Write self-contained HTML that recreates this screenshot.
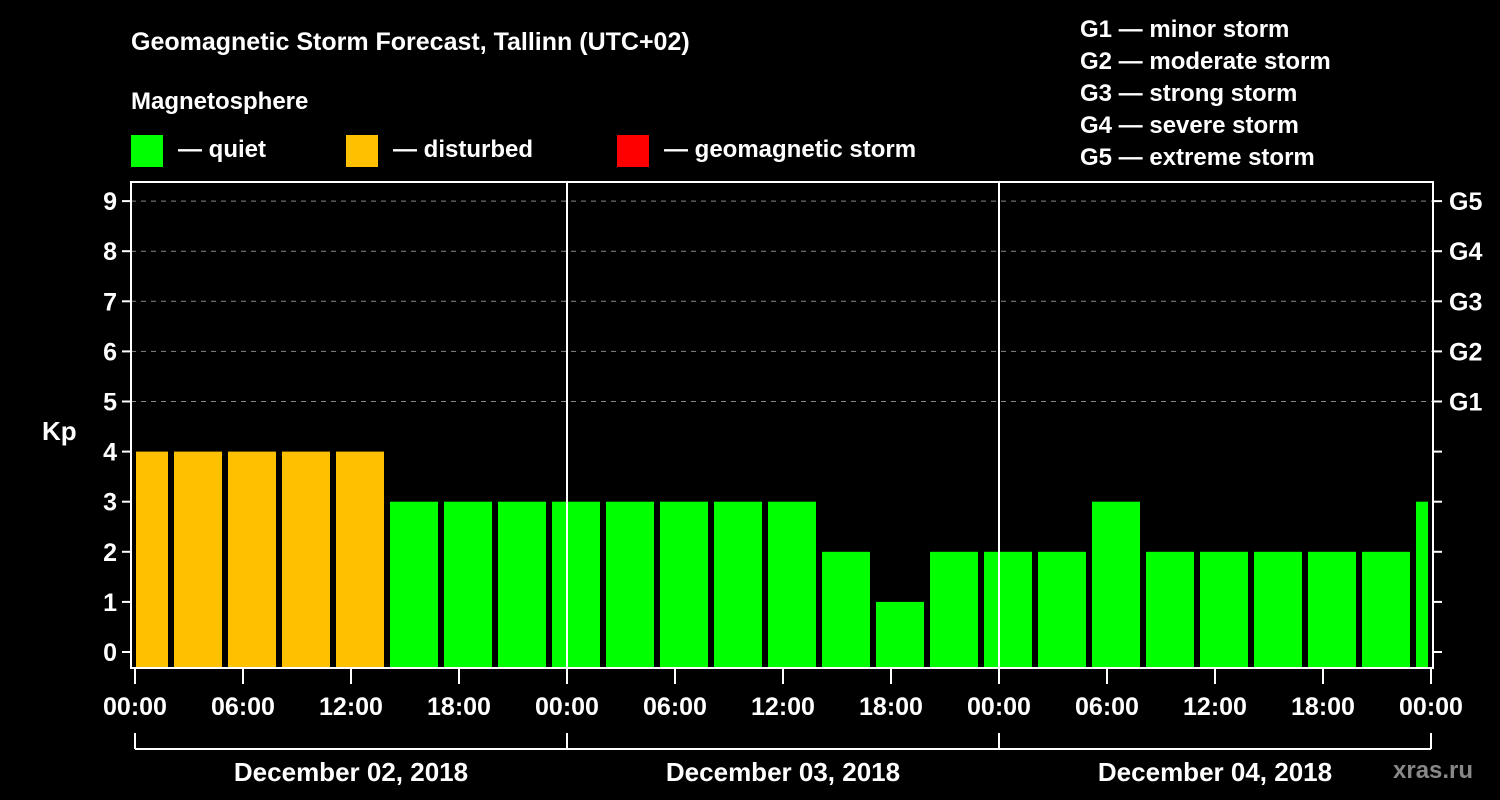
<!DOCTYPE html>
<html><head><meta charset="utf-8"><style>
body{margin:0;background:#000;}
svg{display:block;font-family:"Liberation Sans",Arial,sans-serif;font-weight:bold;}
</style></head><body>
<svg id="c" width="1500" height="800">
<rect width="1500" height="800" fill="#000"/>
<text x="131" y="50" fill="#fff" font-size="25">Geomagnetic Storm Forecast, Tallinn (UTC+02)</text>
<text x="131" y="109" fill="#fff" font-size="24">Magnetosphere</text>
<g><rect x="131" y="135" width="32" height="32" fill="#00ff00"/><text x="178" y="157" fill="#fff" font-size="24">— quiet</text></g>
<g><rect x="346" y="135" width="32" height="32" fill="#ffc000"/><text x="393" y="157" fill="#fff" font-size="24">— disturbed</text></g>
<g><rect x="617" y="135" width="32" height="32" fill="#ff0000"/><text x="664" y="157" fill="#fff" font-size="24">— geomagnetic storm</text></g>
<g fill="#fff" font-size="24">
<text x="1080" y="37">G1 — minor storm</text><text x="1080" y="69">G2 — moderate storm</text><text x="1080" y="101">G3 — strong storm</text><text x="1080" y="133">G4 — severe storm</text><text x="1080" y="165">G5 — extreme storm</text></g>
<text x="42" y="440" fill="#fff" font-size="26">Kp</text>
<text x="1393" y="778" fill="#888" font-size="24">xras.ru</text>
<g id="plot"></g>
</svg>
<script>
const values=[4,4,4,4,4,3,3,3,3,3,3,3,3,2,1,2,2,2,3,2,2,2,2,2,3];
const xTickLabels=["00:00","06:00","12:00","18:00","00:00","06:00","12:00","18:00","00:00","06:00","12:00","18:00","00:00"];
const yTickLabels=["0","1","2","3","4","5","6","7","8","9"];
const gLabels=["G1","G2","G3","G4","G5"];
const dayLabels=["December 02, 2018","December 03, 2018","December 04, 2018"];
const NS="http://www.w3.org/2000/svg";
const g=document.getElementById('plot');
const L=131,R=1433,T=182,B=668;
const xs=h=>135+h*18;
const ys=v=>652-v*50.1;
function mk(t,a,p){const e=document.createElementNS(NS,t);for(const k in a)e.setAttribute(k,a[k]);(p||g).appendChild(e);return e;}
// grid
for(let v=5;v<=9;v++){const l=mk('line',{x1:L,x2:R,y1:ys(v),y2:ys(v),stroke:'#888','stroke-dasharray':'5,5','stroke-width':1});

}
// bars
values.forEach((v,i)=>{
 const s=-1+3*i;let x1=xs(s)+3,x2=xs(s+3)-3;
 x1=Math.max(x1,136);x2=Math.min(x2,1428);
 const col=v>=5?'#ff0000':(v>=4?'#ffc000':'#00ff00');
 const r=mk('rect',{x:x1,y:ys(v),width:x2-x1,height:B-1-ys(v),fill:col});
 
 
});
// day dividers
[24,48].forEach(h=>{const l=mk('line',{x1:xs(h),x2:xs(h),y1:T,y2:B,stroke:'#fff','stroke-width':2});

});
// frame
const f=mk('rect',{x:L,y:T,width:R-L,height:B-T,fill:'none',stroke:'#fff','stroke-width':2});


// y ticks
yTickLabels.forEach((t,v)=>{
 mk('line',{x1:L-9,x2:L,y1:ys(v),y2:ys(v),stroke:'#fff','stroke-width':2});
 mk('line',{x1:R,x2:R+9,y1:ys(v),y2:ys(v),stroke:'#fff','stroke-width':2});
 const tx=mk('text',{x:L-14,y:ys(v)+9,fill:'#fff','font-size':25,'text-anchor':'end'});tx.textContent=t;
 
 
});
gLabels.forEach((t,i)=>{const tx=mk('text',{x:1449,y:ys(5+i)+9,fill:'#fff','font-size':25});tx.textContent=t;
 
 });
// x ticks
xTickLabels.forEach((t,i)=>{const x=xs(i*6);
 mk('line',{x1:x,x2:x,y1:B,y2:B+16,stroke:'#fff','stroke-width':2});
 const tx=mk('text',{x:x,y:715,fill:'#fff','font-size':25,'text-anchor':'middle'});tx.textContent=t;
 
 });
// bracket
mk('line',{x1:xs(0),x2:xs(72),y1:749,y2:749,stroke:'#fff','stroke-width':2});
[0,24,48,72].forEach(h=>mk('line',{x1:xs(h),x2:xs(h),y1:733,y2:749,stroke:'#fff','stroke-width':2}));
dayLabels.forEach((t,i)=>{const tx=mk('text',{x:xs(12+24*i),y:781,fill:'#fff','font-size':26,'text-anchor':'middle'});tx.textContent=t;
 
 });
</script>
</body></html>
